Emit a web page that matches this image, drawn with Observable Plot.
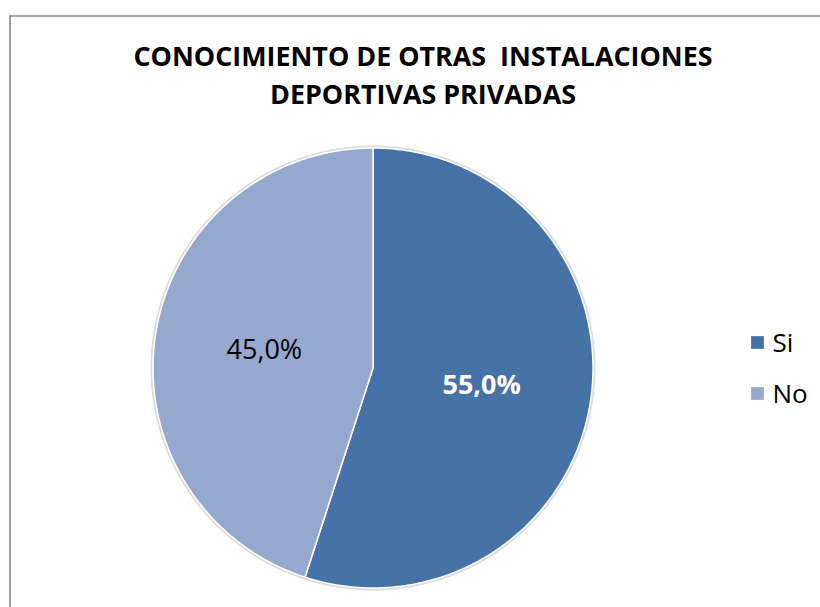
<!DOCTYPE html>
<html>
<head>
<meta charset="utf-8">
<script src="https://cdn.jsdelivr.net/npm/d3@7"></script>
<script src="https://cdn.jsdelivr.net/npm/@observablehq/plot@0.6"></script>
<style>
  html, body { margin: 0; padding: 0; background: #fff; }
  #chart svg { display: block; }
</style>
</head>
<body>
<div id="chart"></div>
<script>
// ---- data ----
const categories = ["Si", "No"];
const values = [55.0, 45.0];
const sliceColors = ["#4672A8", "#95A9CF"];
const titleLines = ["CONOCIMIENTO DE OTRAS  INSTALACIONES", "DEPORTIVAS PRIVADAS"];

// ---- layout ----
const W = 820, H = 607;
const cx = 372.5, cy = 367.5, R = 220;
const FONT = "'Open Sans', 'DejaVu Sans', sans-serif";

const data = categories.map((c, i) => ({cat: c, value: values[i]}));
const arcs = d3.pie().sort(null).value(d => d.value)(data);
const fmt = v => v.toFixed(1).replace(".", ",") + "%";

// polygon outline of each slice (geometry from the pie angles)
const slicePts = [];
for (const a of arcs) {
  const n = Math.max(2, Math.ceil((a.endAngle - a.startAngle) / (Math.PI / 360)));
  slicePts.push({cat: a.data.cat, x: cx, y: cy});
  for (let k = 0; k <= n; k++) {
    const t = a.startAngle + (a.endAngle - a.startAngle) * k / n;
    slicePts.push({cat: a.data.cat, x: cx + R * Math.sin(t), y: cy - R * Math.cos(t)});
  }
  slicePts.push({cat: a.data.cat, x: cx, y: cy});
}
const ringPts = d3.range(0, 721).map(k => {
  const t = k / 720 * 2 * Math.PI;
  return {x: cx + (R + 1.2) * Math.sin(t), y: cy - (R + 1.2) * Math.cos(t)};
});

const labelPos = arcs.map(a => {
  const m = (a.startAngle + a.endAngle) / 2;
  return {cat: a.data.cat, label: fmt(a.data.value), x: cx + 0.5 * R * Math.sin(m), y: cy - 0.5 * R * Math.cos(m)};
});

const titleData = titleLines.map((t, i) => ({text: t.replace(/  /g, " \u00A0"), x: 422.5, y: 65.5 + i * 38}));
const legendData = categories.map((c, i) => ({cat: c, x: 757, y: 342 + i * 51}));

const plot = Plot.plot({
  width: W,
  height: H,
  margin: 0,
  style: {fontFamily: FONT, background: "#fff", overflow: "visible"},
  x: {domain: [0, W], range: [0, W], axis: null},
  y: {domain: [0, H], range: [0, H], axis: null},
  color: {domain: categories, range: sliceColors},
  marks: [
    // chart frame
    Plot.ruleY([15.5], {x1: 9.5, x2: W, stroke: "#888888", strokeWidth: 1.6}),
    Plot.ruleX([9.5], {y1: 15.5, y2: H, stroke: "#888888", strokeWidth: 1.6}),
    // soft edge round the pie
    Plot.line(ringPts, {x: "x", y: "y", stroke: "#dcdcdc", strokeWidth: 2.5}),
    // slices
    Plot.line(slicePts, {x: "x", y: "y", z: "cat", fill: "cat", stroke: "white", strokeWidth: 1.5, strokeLinejoin: "round"}),
    // slice labels
    Plot.text(labelPos.filter(d => d.cat === "Si"), {x: "x", y: "y", text: "label", fill: "white", fontWeight: "bold", fontSize: 27, fontFamily: FONT}),
    Plot.text(labelPos.filter(d => d.cat === "No"), {x: "x", y: "y", text: "label", fill: "black", fontSize: 27, fontFamily: FONT}),
    // title
    Plot.text(titleData, {x: "x", y: "y", text: "text", lineAnchor: "bottom", fontWeight: "bold", fontSize: 27, fill: "black", fontFamily: FONT, className: "title-lines"}),
    // legend
    Plot.dot(legendData, {x: "x", y: "y", symbol: "square", r: 7.2, fill: "cat", stroke: "none"}),
    Plot.text(legendData, {x: d => d.x + 15, y: d => d.y + 9, text: "cat", textAnchor: "start", lineAnchor: "bottom", fontSize: 26, fill: "black", fontFamily: FONT})
  ]
});

const titleWidths = [579, 306];
plot.querySelectorAll(".title-lines text").forEach((t, i) => {
  t.setAttribute("textLength", titleWidths[i]);
  t.setAttribute("lengthAdjust", "spacingAndGlyphs");
});

document.getElementById("chart").appendChild(plot);
</script>
</body>
</html>
